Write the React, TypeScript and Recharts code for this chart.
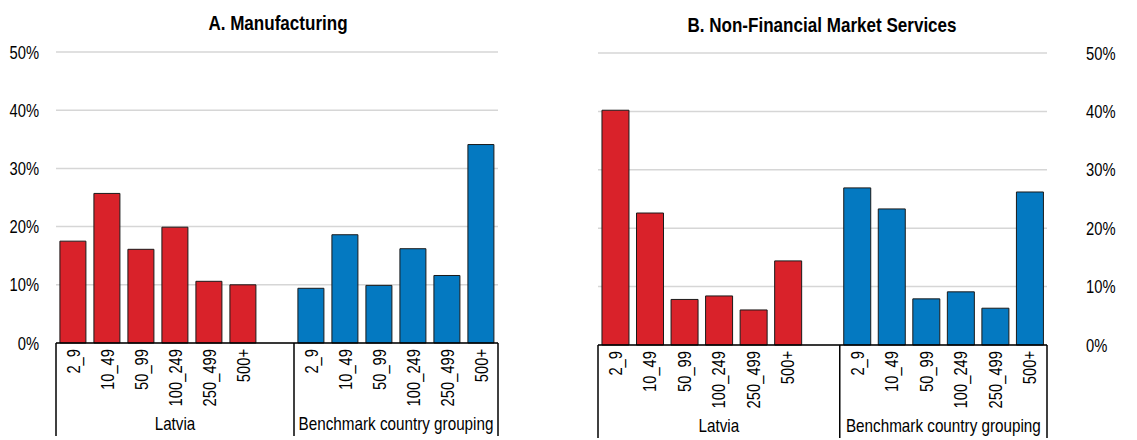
import React from 'react';
import { BarChart, Bar, XAxis, YAxis, CartesianGrid } from 'recharts';

// no Arial Narrow here, so Liberation Sans squeezed horizontally
const FONT = '"Liberation Sans", Arial, sans-serif';
const SQ = 0.82;

const sizeClasses = ['2_9', '10_49', '50_99', '100_249', '250_499', '500+'];
const groupLabels = ['Latvia', 'Benchmark country grouping'];
const yTicks = [0, 10, 20, 30, 40, 50];

// shares in %
const manufLatvia = [17.5, 25.7, 16.1, 19.9, 10.6, 10.0];
const manufBench = [9.4, 18.6, 9.9, 16.2, 11.6, 34.1];
const servLatvia = [40.2, 22.6, 7.8, 8.4, 6.0, 14.4];
const servBench = [26.9, 23.3, 7.9, 9.1, 6.3, 26.2];

const RED = '#d9222a';
const BLUE = '#0479c1';

type Row = { key: string; label: string; latvia: number | null; bench: number | null };

const buildRows = (latvia: number[], bench: number[]): Row[] => [
  ...sizeClasses.map((s, i) => ({ key: 'L' + s, label: s, latvia: latvia[i], bench: null })),
  { key: 'gap', label: '', latvia: null, bench: null },
  ...sizeClasses.map((s, i) => ({ key: 'B' + s, label: s, latvia: null, bench: bench[i] })),
];

const Narrow = ({ x, y, anchor = 'start', rotate = 0, size = 18, bold = false, children }: any) => (
  <text
    transform={`translate(${x},${y}) rotate(${rotate}) scale(${SQ},1)`}
    textAnchor={anchor}
    fontSize={size}
    fontWeight={bold ? 'bold' : 'normal'}
    fontFamily={FONT}
    fill="#000"
  >
    {children}
  </text>
);

const makeXTick = (rows: Row[], bw: number) => (props: any) => {
  const { x, y, index } = props;
  const row = rows[index];
  const bracketH = 93;
  return (
    <g>
      {row && row.label ? (
        <Narrow x={x + 6.5} y={y + 6} rotate={-90} anchor="end">
          {row.label}
        </Narrow>
      ) : null}
      {index === 0 && <line x1={x - bw / 2} x2={x - bw / 2} y1={y} y2={y + bracketH} stroke="#000" strokeWidth={1.5} />}
      {index === 6 && <line x1={x + bw / 2} x2={x + bw / 2} y1={y} y2={y + bracketH} stroke="#000" strokeWidth={1.5} />}
      {index === 12 && <line x1={x + bw / 2} x2={x + bw / 2} y1={y} y2={y + bracketH} stroke="#000" strokeWidth={1.5} />}
      {index === 3 && (
        <Narrow x={x} y={y + 87} anchor="middle" size={18.6}>
          {groupLabels[0]}
        </Narrow>
      )}
      {index === 12 && (
        <Narrow x={x - 2.5 * bw} y={y + 87} anchor="middle" size={18.6}>
          {groupLabels[1]}
        </Narrow>
      )}
    </g>
  );
};

const makeYTick = (anchor: string) => (props: any) => {
  const { x, y, payload } = props;
  return (
    <Narrow x={x} y={y + 6.5} anchor={anchor}>
      {`${payload.value}%`}
    </Narrow>
  );
};

interface PanelProps {
  latvia: number[];
  bench: number[];
  side: 'left' | 'right';
}

const Panel: React.FC<PanelProps> = ({ latvia, bench, side }) => {
  const rows = buildRows(latvia, bench);
  const isLeft = side === 'left';
  const width = 560;
  const top = isLeft ? 52 : 53;
  const xAxisH = isLeft ? 97 : 95;
  const plotLeft = isLeft ? 56 : 21;
  const plotRight = isLeft ? 498 : 470;
  const bw = (plotRight - plotLeft) / rows.length;

  return (
    <BarChart
      width={width}
      height={440}
      data={rows}
      margin={{ top, bottom: 0, left: isLeft ? 0 : plotLeft, right: isLeft ? width - plotRight : 0 }}
      barCategoryGap="11.5%"
    >
      <CartesianGrid vertical={false} stroke="#d6d6d6" strokeWidth={1.5} />
      <XAxis
        dataKey="key"
        interval={0}
        height={xAxisH}
        tickLine={false}
        tickSize={0}
        tickMargin={0}
        axisLine={{ stroke: '#000', strokeWidth: 1.5 }}
        tick={makeXTick(rows, bw)}
      />
      <YAxis
        orientation={isLeft ? 'left' : 'right'}
        width={isLeft ? plotLeft : width - plotRight}
        domain={[0, 50]}
        ticks={yTicks}
        interval={0}
        axisLine={false}
        tickLine={false}
        tickSize={0}
        tickMargin={isLeft ? 17 : 39}
        tick={makeYTick(isLeft ? 'end' : 'start')}
      />
      <Bar dataKey="latvia" stackId="s" fill={RED} stroke="#1a1a1a" strokeWidth={1} isAnimationActive={false} />
      <Bar dataKey="bench" stackId="s" fill={BLUE} stroke="#1a1a1a" strokeWidth={1} isAnimationActive={false} />
    </BarChart>
  );
};

export default function App() {
  return (
    <div style={{ position: 'absolute', left: 0, top: 0, width: 1137, height: 440, background: '#fff' }}>
      <div style={{ position: 'absolute', left: 0, top: 0 }}>
        <Panel latvia={manufLatvia} bench={manufBench} side="left" />
      </div>
      <div style={{ position: 'absolute', left: 577, top: 0 }}>
        <Panel latvia={servLatvia} bench={servBench} side="right" />
      </div>
      <svg width={1137} height={440} style={{ position: 'absolute', left: 0, top: 0, pointerEvents: 'none' }}>
        <Narrow x={278} y={30} anchor="middle" size={20.8} bold>
          A. Manufacturing
        </Narrow>
        <Narrow x={822} y={32} anchor="middle" size={20.8} bold>
          B. Non-Financial Market Services
        </Narrow>
      </svg>
    </div>
  );
}
